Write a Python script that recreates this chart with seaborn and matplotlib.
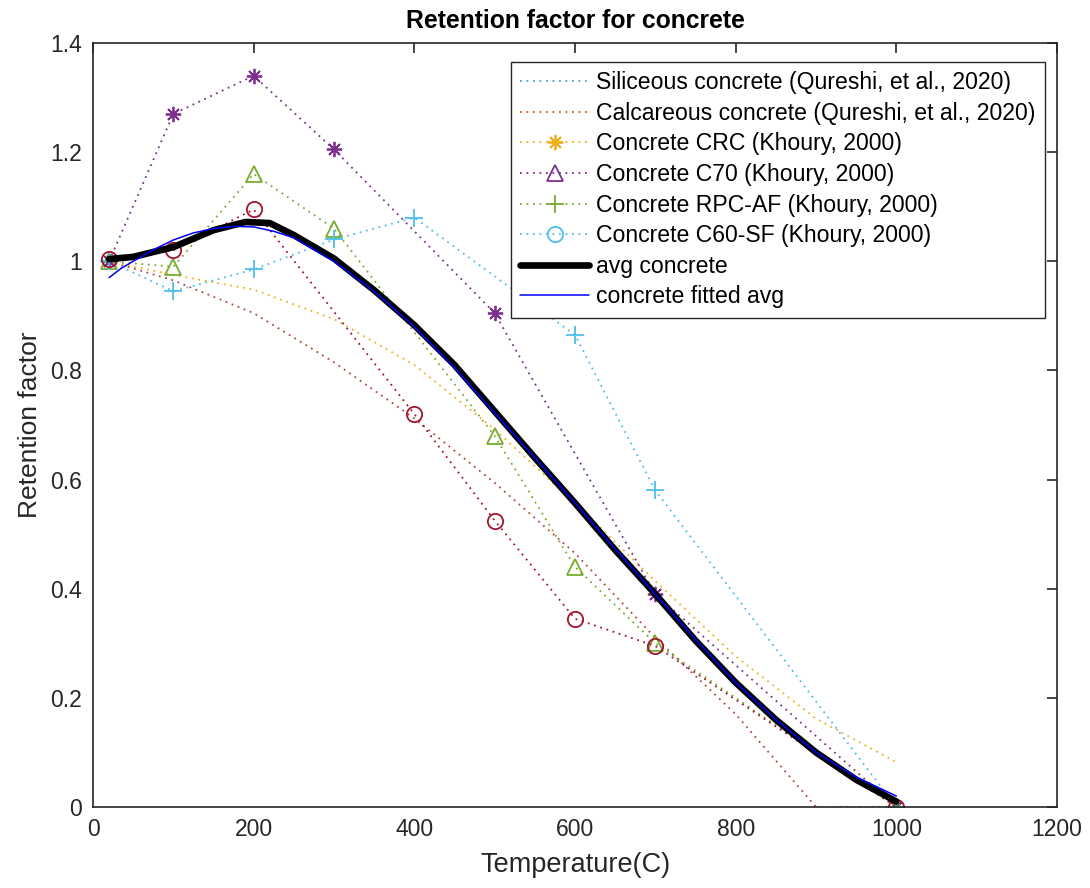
import matplotlib
matplotlib.use("Agg")
import matplotlib.pyplot as plt
from matplotlib.lines import Line2D
import seaborn as sns
import pandas as pd

# ---- data ----
x_ast = [20, 100, 200, 300, 500, 700, 1000]
y_ast = [1.0, 1.27, 1.34, 1.205, 0.905, 0.39, 0.0]

x_tri = [20, 100, 200, 300, 500, 600, 700, 1000]
y_tri = [1.0, 0.99, 1.16, 1.06, 0.68, 0.44, 0.30, 0.0]

x_cir = [20, 100, 200, 400, 500, 600, 700, 1000]
y_cir = [1.005, 1.02, 1.095, 0.72, 0.525, 0.345, 0.295, 0.0]

x_plus = [20, 100, 200, 300, 400, 600, 700, 1000]
y_plus = [1.0, 0.945, 0.985, 1.04, 1.08, 0.865, 0.58, 0.0]

x_crc = [20, 100, 200, 300, 400, 500, 600, 700, 800, 900, 1000]
y_crc = [1.0, 0.975, 0.948, 0.894, 0.81, 0.692, 0.557, 0.414, 0.276, 0.162, 0.082]

x_calc = [20, 100, 200, 300, 400, 500, 600, 700, 800, 900, 1000]
y_calc = [1.0, 0.965, 0.905, 0.815, 0.712, 0.594, 0.465, 0.31, 0.17, 0.0, 0.0]

x_avg = [20, 50, 100, 150, 190, 220, 250, 300, 350, 400, 450, 500, 550, 600,
         650, 700, 750, 800, 850, 900, 950, 1000]
y_avg = [1.004, 1.008, 1.026, 1.057, 1.072, 1.07, 1.048, 1.005, 0.947, 0.883,
         0.81, 0.725, 0.64, 0.557, 0.471, 0.39, 0.305, 0.228, 0.16, 0.10, 0.05, 0.01]

x_fit = [20, 35, 50, 75, 100, 125, 150, 175, 200, 225, 250, 300, 350, 400, 450,
         500, 550, 600, 650, 700, 750, 800, 850, 900, 950, 1000]
y_fit = [0.97, 0.987, 1.0, 1.021, 1.039, 1.052, 1.06, 1.064, 1.063, 1.055, 1.043,
         1.0, 0.945, 0.88, 0.805, 0.722, 0.64, 0.557, 0.473, 0.39, 0.307, 0.228,
         0.16, 0.10, 0.055, 0.02]

legend_labels = [
    "Siliceous concrete (Qureshi, et al., 2020)",
    "Calcareous concrete (Qureshi, et al., 2020)",
    "Concrete CRC (Khoury, 2000)",
    "Concrete C70 (Khoury, 2000)",
    "Concrete RPC-AF (Khoury, 2000)",
    "Concrete C60-SF (Khoury, 2000)",
    "avg concrete",
    "concrete fitted avg",
]

x_ticks = [0, 200, 400, 600, 800, 1000, 1200]
y_ticks = [0, 0.2, 0.4, 0.6, 0.8, 1.0, 1.2, 1.4]
y_ticklabels = ["0", "0.2", "0.4", "0.6", "0.8", "1", "1.2", "1.4"]

# ---- style ----
sns.set_style("white")
plt.rcParams["font.family"] = ["Liberation Sans", "DejaVu Sans"]

ORANGE = "#D95319"
YELLOW = "#EDB120"
PURPLE = "#7E2F8E"
GREEN = "#77AC30"
CYAN = "#4DBEEE"
DRED = "#A2142F"
AX = "#262626"

DOT = (0, (1, 2.6))
LW = 1.3
AST = (8, 2, 0)

fig = plt.figure(figsize=(10.90, 8.88), dpi=100)
ax = fig.add_axes([93 / 1090, 1 - 807 / 888, (1057 - 93) / 1090, (807 - 43) / 888])

def dotted(xs, ys, color, marker=None, ms=10, zorder=2):
    df = pd.DataFrame({"x": xs, "y": ys})
    sns.lineplot(data=df, x="x", y="y", ax=ax, color=color, linestyle=DOT,
                 linewidth=LW, marker=marker, markersize=ms,
                 markerfacecolor="none", markeredgecolor=color,
                 markeredgewidth=1.3, sort=False, estimator=None, zorder=zorder)

dotted(x_calc, y_calc, "#B2473A")
dotted(x_crc, y_crc, YELLOW)
dotted(x_ast, y_ast, PURPLE, marker=AST, ms=11)
dotted(x_tri, y_tri, GREEN, marker="^", ms=11)
dotted(x_plus, y_plus, CYAN, marker="+", ms=13)
dotted(x_cir, y_cir, DRED, marker="o", ms=11)

sns.lineplot(x=x_avg, y=y_avg, ax=ax, color="black", linewidth=4.8,
             sort=False, estimator=None, zorder=4)
sns.lineplot(x=x_fit, y=y_fit, ax=ax, color="#0000FF", linewidth=1.1,
             sort=False, estimator=None, zorder=5)

ax.set_xlim(0, 1200)
ax.set_ylim(0, 1.4)
ax.set_xticks(x_ticks)
ax.set_xticklabels([str(t) for t in x_ticks])
ax.set_yticks(y_ticks)
ax.set_yticklabels(y_ticklabels)
ax.tick_params(direction="in", length=7, width=1.2, colors=AX, labelsize=16.5,
               top=True, right=True, pad=8)
for s in ax.spines.values():
    s.set_color(AX)
    s.set_linewidth(1.2)
    s.set_visible(True)

ax.set_xlabel("Temperature(C)", fontsize=19.5, color=AX, labelpad=7.5)
ax.set_ylabel("Retention factor", fontsize=19, color=AX, labelpad=6)
ax.set_title("Retention factor for concrete", fontsize=17.8, fontweight="bold",
             color="black", pad=11)

handles = [
    Line2D([], [], color="#4A9FD8", linestyle=DOT, linewidth=LW),
    Line2D([], [], color=ORANGE, linestyle=DOT, linewidth=LW),
    Line2D([], [], color=YELLOW, linestyle=DOT, linewidth=LW, marker=AST,
           markersize=11, markeredgewidth=1.3),
    Line2D([], [], color=PURPLE, linestyle=DOT, linewidth=LW, marker="^",
           markersize=11, markerfacecolor="none", markeredgewidth=1.3),
    Line2D([], [], color=GREEN, linestyle=DOT, linewidth=LW, marker="+",
           markersize=13, markeredgewidth=1.3),
    Line2D([], [], color=CYAN, linestyle=DOT, linewidth=LW, marker="o",
           markersize=11, markerfacecolor="none", markeredgewidth=1.3),
    Line2D([], [], color="black", linewidth=4.8),
    Line2D([], [], color="#0000FF", linewidth=1.1),
]
leg = ax.legend(handles=handles, labels=legend_labels, loc="upper right",
                bbox_to_anchor=((1045 - 93) / 964, (807 - 62) / 764),
                borderaxespad=0, fontsize=16.6, frameon=True, fancybox=False,
                framealpha=1, edgecolor=AX, handlelength=3.0,
                handletextpad=0.3, labelspacing=0.33, borderpad=0.4)
leg.get_frame().set_linewidth(1.0)
for t in leg.get_texts():
    t.set_color("black")

fig.savefig("out.png", dpi=100)
